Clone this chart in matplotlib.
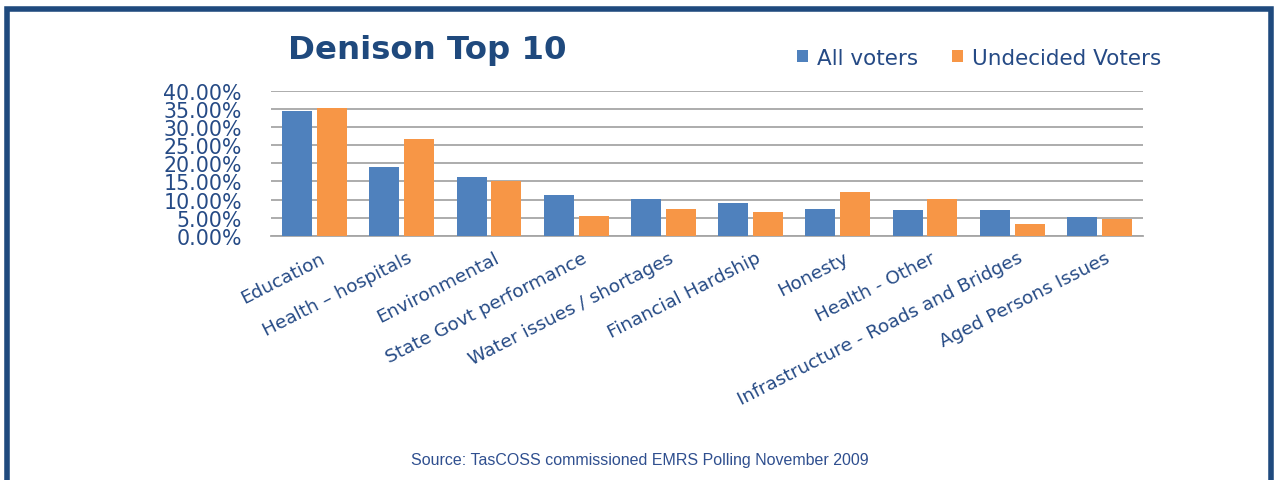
import matplotlib
matplotlib.use("Agg")
import matplotlib.pyplot as plt
import numpy as np
from matplotlib.patches import Rectangle

categories = ["Education", "Health \u2013 hospitals", "Environmental", "State Govt performance",
              "Water issues / shortages", "Financial Hardship", "Honesty", "Health - Other",
              "Infrastructure - Roads and Bridges", "Aged Persons Issues"]
all_voters = [34.4, 19.0, 16.1, 11.3, 10.2, 9.1, 7.4, 7.1, 7.1, 5.3]
undecided = [35.3, 26.8, 15.1, 5.6, 7.3, 6.5, 12.2, 10.2, 3.3, 4.8]
yticks = [0, 5, 10, 15, 20, 25, 30, 35, 40]

W, H = 1276, 481
fig = plt.figure(figsize=(W/100, H/100), dpi=100)
fig.patch.set_facecolor("white")

txt = "#254A85"
blue = "#4F81BD"
orange = "#F79646"

ax = fig.add_axes([271/W, (H-237)/H, (1143-271)/W, (237-91.5)/H])
x = np.arange(len(categories))
bw = 0.345
ax.bar(x - 0.2, all_voters, bw, color=blue, label="All voters", zorder=3)
ax.bar(x + 0.2, undecided, bw, color=orange, label="Undecided Voters", zorder=3)
ax.set_xlim(-0.5, 9.5)
ax.set_ylim(0, 40)
ax.set_yticks(yticks)
ax.set_yticklabels([f"{v:.2f}%" for v in yticks], fontsize=14.8, color=txt, family="DejaVu Sans")
ax.yaxis.grid(True, color="#A6A6A6", linewidth=1.3, zorder=0)
ax.tick_params(axis="y", length=0, pad=21)
ax.tick_params(axis="x", length=0, pad=9)
for s in ["left", "right", "top"]:
    ax.spines[s].set_visible(False)
ax.spines["bottom"].set_color("#A6A6A6")
ax.spines["bottom"].set_linewidth(1.3)
ax.set_xticks(x + 0.06)
ax.set_xticklabels(categories, rotation=27, ha="right", rotation_mode="anchor",
                   fontsize=13.3, color=txt, family="DejaVu Sans")

fig.text(288/W, 1 - 51/H, "Denison Top 10", fontsize=23.3, fontweight="bold",
         color="#1F497D", family="DejaVu Sans", ha="left", va="center")

leg = fig.legend(loc="center left", bbox_to_anchor=(797/W, 1 - 59/H), ncol=2, frameon=False,
                 fontsize=15.5, handlelength=0.5, handleheight=0.5, handletextpad=0.45,
                 columnspacing=1.55, borderaxespad=0, borderpad=0)
for t in leg.get_texts():
    t.set_color(txt)

fig.text(640/W, 1 - 461/H, "Source: TasCOSS commissioned EMRS Polling November 2009",
         fontsize=11.5, color="#2F4F8F", family="Liberation Sans", ha="center", va="center")

border = Rectangle((6.5/W, -0.1), (1270.5-6.5)/W, (1 - 10/H) + 0.1, transform=fig.transFigure,
                   fill=False, edgecolor="#1F4A7E", linewidth=4.0, zorder=10)
fig.patches.append(border)

fig.savefig("out.png", dpi=100)
